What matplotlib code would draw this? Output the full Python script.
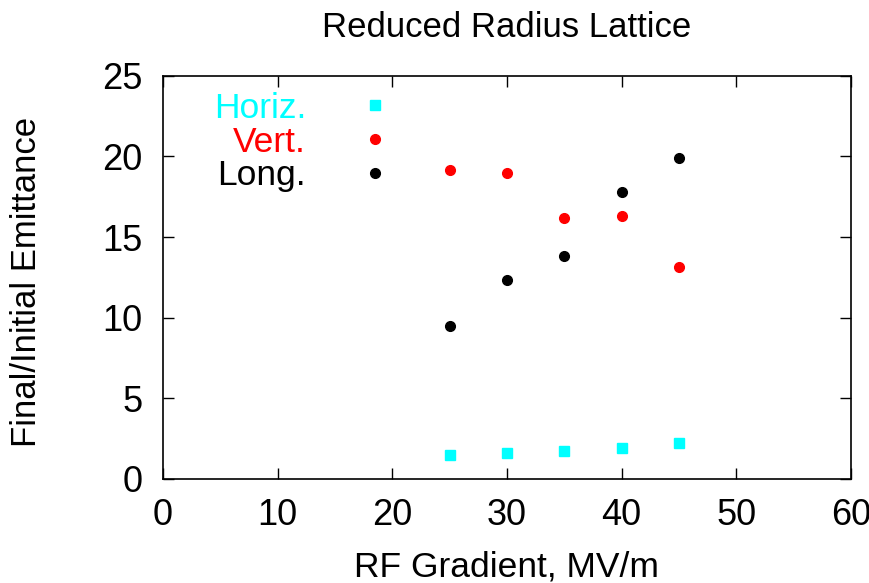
import matplotlib.pyplot as plt

plt.rcParams['font.family'] = ['Liberation Sans', 'DejaVu Sans']

# data
gradient = [25, 30, 35, 40, 45]
horiz = [1.47, 1.59, 1.71, 1.90, 2.21]
vert = [19.16, 18.97, 16.18, 16.30, 13.14]
longi = [9.49, 12.34, 13.83, 17.79, 19.90]

fig = plt.figure(figsize=(8.7, 5.83), dpi=100)
ax = fig.add_axes([163 / 870, 1 - 479 / 583, 688 / 870, 403.3 / 583])

ax.plot(gradient, horiz, 's', color='cyan', markersize=7.9, label='Horiz.')
ax.plot(gradient, vert, 'o', color='red', markersize=7, label='Vert.')
ax.plot(gradient, longi, 'o', color='black', markersize=7, label='Long.')

ax.set_xlim(0, 60)
ax.set_ylim(0, 25)
ax.set_xticks(range(0, 61, 10))
ax.set_yticks(range(0, 26, 5))
ax.tick_params(direction='in', length=8, width=1, labelsize=26, pad=14,
               top=True, right=True)
ax.tick_params(axis='y', pad=15)
for s in ax.spines.values():
    s.set_linewidth(1.2)

ax.set_title('Reduced Radius Lattice', fontsize=25, pad=28)
ax.set_xlabel('RF Gradient, MV/m', fontsize=25.5, labelpad=12)
ax.set_ylabel('Final/Initial Emittance', fontsize=25, labelpad=42)
ax.yaxis.label.set_y(0.488)

leg = ax.legend(loc='upper right', bbox_to_anchor=(0.334, 0.96), frameon=False,
                markerfirst=False, fontsize=25.5, handlelength=1, handletextpad=1.45,
                labelspacing=0.02, borderpad=0, borderaxespad=0,
                labelcolor='markerfacecolor')

fig.savefig('out.png', dpi=100)
